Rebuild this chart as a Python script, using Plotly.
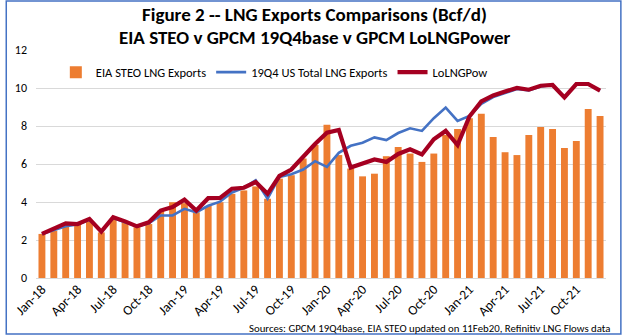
import plotly.graph_objects as go

# Monthly periods Jan-18 .. Dec-21
months = ["Jan", "Feb", "Mar", "Apr", "May", "Jun",
          "Jul", "Aug", "Sep", "Oct", "Nov", "Dec"]
periods = [f"{m}-{y}" for y in ("18", "19", "20", "21") for m in months]

# EIA STEO LNG exports (Bcf/d)
eia_steo = [2.32, 2.49, 2.70, 2.81, 2.98, 2.40, 3.11, 2.93, 2.67, 2.84, 3.55, 3.99,
            3.94, 3.46, 3.79, 3.99, 4.43, 4.61, 4.82, 4.17, 5.23, 5.41, 6.29, 7.00,
            8.06, 6.47, 5.76, 5.35, 5.49, 6.41, 6.89, 6.55, 6.11, 6.55, 7.52, 7.84,
            8.41, 8.64, 7.42, 6.62, 6.47, 7.52, 7.95, 7.84, 6.84, 7.21, 8.90, 8.53]

# GPCM 19Q4 base case: US total LNG exports (Bcf/d)
gpcm_19q4 = [2.32, 2.52, 2.72, 2.81, 3.06, 2.44, 3.16, 2.93, 2.72, 2.88, 3.29, 3.29,
             3.64, 3.46, 3.80, 4.02, 4.50, 4.75, 5.14, 4.17, 5.32, 5.46, 5.71, 6.15,
             5.85, 6.59, 6.96, 7.12, 7.40, 7.26, 7.63, 7.88, 7.74, 8.41, 8.97, 8.27,
             8.53, 9.17, 9.52, 9.73, 9.95, 9.87, 10.08, 10.16, 9.50, 10.21, 10.21, 9.86]

# GPCM LoLNGPower scenario (Bcf/d)
lo_lng_pow = [2.32, 2.58, 2.88, 2.84, 3.11, 2.44, 3.20, 2.98, 2.72, 2.93, 3.55, 3.73,
              4.12, 3.55, 4.20, 4.21, 4.70, 4.75, 5.05, 4.43, 5.37, 5.71, 6.41, 7.05,
              7.65, 7.79, 5.81, 6.02, 6.24, 6.11, 6.53, 6.77, 6.50, 7.30, 7.74, 7.00,
              8.50, 9.29, 9.61, 9.82, 10.00, 9.91, 10.12, 10.16, 9.50, 10.21, 10.21, 9.86]

# Label every third month on the category axis
tick_every = 3
tick_vals = periods[::tick_every]

title_lines = ["Figure 2 -- LNG Exports Comparisons (Bcf/d)",
               "EIA STEO v GPCM 19Q4base v GPCM LoLNGPower"]
source_note = "Sources: GPCM 19Q4base, EIA STEO updated on 11Feb20, Refinitiv LNG Flows data"

FONT = "Carlito, Lato, Open Sans, sans-serif"
W, H = 624, 336
ML, MR, MT, MB = 31, 18, 50, 58

fig = go.Figure()
fig.add_trace(go.Bar(
    x=periods, y=eia_steo, name="EIA STEO LNG Exports",
    marker=dict(color="#ED7D31", line=dict(width=0)), width=0.58,
))
fig.add_trace(go.Scatter(
    x=periods, y=gpcm_19q4, name="19Q4 US Total LNG Exports", mode="lines",
    line=dict(color="#4472C4", width=2.6),
))
fig.add_trace(go.Scatter(
    x=periods, y=lo_lng_pow, name="LoLNGPow", mode="lines",
    line=dict(color="#A50021", width=4.2),
))

plot_w = W - ML - MR
plot_h = H - MT - MB


def px_x(p):
    """Pixel column -> paper x."""
    return (p - ML) / plot_w


def px_y(p):
    """Pixel row (from top) -> paper y."""
    return (H - MB - p) / plot_h


fig.update_layout(
    width=W, height=H,
    margin=dict(l=ML, r=MR, t=MT, b=MB),
    paper_bgcolor="white", plot_bgcolor="white",
    font=dict(family=FONT, size=12, color="#000000"),
    legend=dict(
        orientation="h", x=px_x(51), xanchor="left",
        y=px_y(72.5), yanchor="middle",
        font=dict(family=FONT, size=12.5, color="#000000"),
        bgcolor="rgba(0,0,0,0)", traceorder="normal",
    ),
    showlegend=True,
)

fig.update_xaxes(
    type="category", categoryorder="array", categoryarray=periods,
    range=[-0.5, len(periods) - 0.5],
    tickmode="array", tickvals=tick_vals, ticktext=tick_vals,
    tickangle=-45, ticks="", showgrid=False, showline=False, zeroline=False,
    tickfont=dict(family=FONT, size=13.5, color="#000000"),
)
fig.update_yaxes(
    range=[0, 12], dtick=2, tick0=0,
    showgrid=True, gridcolor="#D9D9D9", gridwidth=1,
    zeroline=True, zerolinecolor="#D9D9D9", zerolinewidth=1,
    showline=False, ticks="", ticklabelstandoff=8,
    tickfont=dict(family=FONT, size=12, color="#000000"),
)

# Two-line bold title
for line_text, y_px in zip(title_lines, (14.5, 37.5)):
    fig.add_annotation(
        text=f"<b>{line_text}</b>", xref="paper", yref="paper",
        x=px_x(312), y=px_y(y_px), xanchor="center", yanchor="middle",
        showarrow=False, font=dict(family=FONT, size=19, color="#000000"),
    )

# Source note
fig.add_annotation(
    text=source_note,
    xref="paper", yref="paper", x=px_x(612), y=px_y(328),
    xanchor="right", yanchor="middle", showarrow=False,
    font=dict(family=FONT, size=10.8, color="#000000"),
)

# Chart frame
fig.add_shape(
    type="rect", xref="paper", yref="paper",
    x0=px_x(1), x1=px_x(621), y0=px_y(334), y1=px_y(1),
    line=dict(color="#4472C4", width=1.5), fillcolor="rgba(0,0,0,0)",
    layer="below",
)

fig.write_html("out.html")
